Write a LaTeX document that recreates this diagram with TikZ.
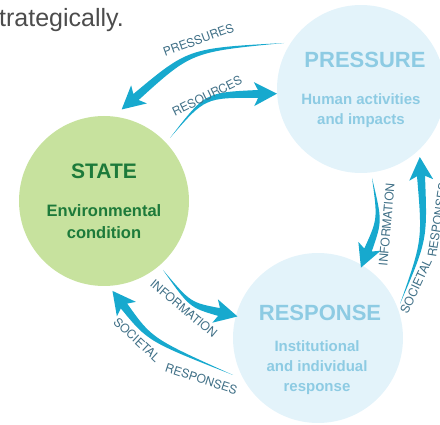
\documentclass[tikz,border=0pt]{standalone}
\usepackage{fontspec}
\setmainfont{Liberation Sans}
\newfontfamily\herosfont{TeX Gyre Heros}
\usetikzlibrary{calc}

\definecolor{flowblue}{HTML}{17A9CE}
\definecolor{labelgrey}{HTML}{3F6F86}
\definecolor{paleblue}{HTML}{E3F3FA}
\definecolor{titleblue}{HTML}{8DCBE3}
\definecolor{palegreen}{HTML}{C7E29E}
\definecolor{darkgreen}{HTML}{1D7A3A}

\newcommand{\lblfont}{\herosfont\fontsize{12}{12}\selectfont}

% tapered arrow: tail, bend point, head base
\newcommand{\flowarrow}[3]{%
  \fill[flow] (#1) .. controls ($(#2)!2.5pt!-90:(#3)$) .. ($(#3)!4pt!90:(#2)$)
    -- ($(#3)!12.65pt!71.6:(#2)$) -- ($(#3)!-19pt!(#2)$)
    -- ($(#3)!12.65pt!-71.6:(#2)$) -- ($(#3)!4pt!-90:(#2)$)
    .. controls ($(#2)!2.5pt!90:(#3)$) .. cycle;}

\begin{document}
\begin{tikzpicture}[x=1pt, y=1pt,
    flow/.style={fill=flowblue},
    ball/.style={circle, minimum size=#1, inner sep=0pt},
    flowlabel/.style={text=labelgrey, font=\lblfont, inner sep=0pt, anchor=base}]
  \useasboundingbox (0,0) rectangle (440,-425);

  \node[anchor=base west, text=black!70, font=\fontsize{25}{25}\selectfont, inner sep=0pt]
    (lead) at (-1,-27) {trategically.};

  % the three circles
  \node[ball=170pt, fill=palegreen] (state) at (104,-201) {};
  \node[ball=168pt, fill=paleblue] (pressure) at (361,-89) {};
  \node[ball=170pt, fill=paleblue] (response) at (318,-338) {};

  \node[text=darkgreen, font=\bfseries\fontsize{21}{21}\selectfont] (statetitle) at (104,-171) {STATE};
  \node[text=darkgreen, align=center, font=\bfseries\fontsize{16.5}{22}\selectfont] (statetext) at (104,-222) {Environmental\\condition};
  \node[text=titleblue, font=\bfseries\fontsize{22}{22}\selectfont] (prestitle) at (365,-60) {PRESSURE};
  \node[text=titleblue, align=center, font=\bfseries\fontsize{15}{20}\selectfont] (prestext) at (361,-111) {Human activities\\and impacts};
  \node[text=titleblue, font=\bfseries\fontsize{22}{22}\selectfont] (resptitle) at (320,-313) {RESPONSE};
  \node[text=titleblue, align=center, font=\bfseries\fontsize{15}{20}\selectfont] (resptext) at (317,-368) {Institutional\\and individual\\response};

  % arrow ends
  \coordinate (pr-t) at (284,-43);  \coordinate (pr-c) at (190,-50);  \coordinate (pr-h) at (136,-97);
  \coordinate (rs-t) at (170,-138); \coordinate (rs-c) at (205,-95);  \coordinate (rs-h) at (258,-94);
  \coordinate (ia-t) at (372,-178); \coordinate (ia-c) at (380,-220); \coordinate (ia-h) at (368,-250);
  \coordinate (sa-t) at (400,-304); \coordinate (sa-c) at (425,-240); \coordinate (sa-h) at (421,-176);
  \coordinate (ib-t) at (163,-270); \coordinate (ib-c) at (190,-305); \coordinate (ib-h) at (219,-312);
  \coordinate (sb-t) at (233,-375); \coordinate (sb-c) at (150,-340); \coordinate (sb-h) at (124,-306);

  \flowarrow{pr-t}{pr-c}{pr-h}
  \flowarrow{rs-t}{rs-c}{rs-h}
  \flowarrow{ia-t}{ia-c}{ia-h}
  \flowarrow{sa-t}{sa-c}{sa-h}
  \flowarrow{ib-t}{ib-c}{ib-h}
  \flowarrow{sb-t}{sb-c}{sb-h}

  % labels beside the arrows
  \node[flowlabel, rotate=20] (prlabel) at (200,-44) {PRESSURES};
  \node[flowlabel, rotate=26] (rslabel) at (209,-100) {RESOURCES};
  \node[flowlabel, rotate=85] (ialabel) at (391,-225) {INFORMATION};
  \node[flowlabel, rotate=65] (salabel) at (420,-288) {SOCIETAL};
  \node[flowlabel, rotate=81, anchor=base west] (salabel2) at (436,-258) {RESPONSES};
  \node[flowlabel, rotate=-40] (iblabel) at (181,-312) {INFORMATION};
  \node[flowlabel, rotate=-43] (sblabel) at (134,-343) {SOCIETAL};
  \node[flowlabel, rotate=-18] (sblabel2) at (200,-383) {RESPONSES};
\end{tikzpicture}
\end{document}
